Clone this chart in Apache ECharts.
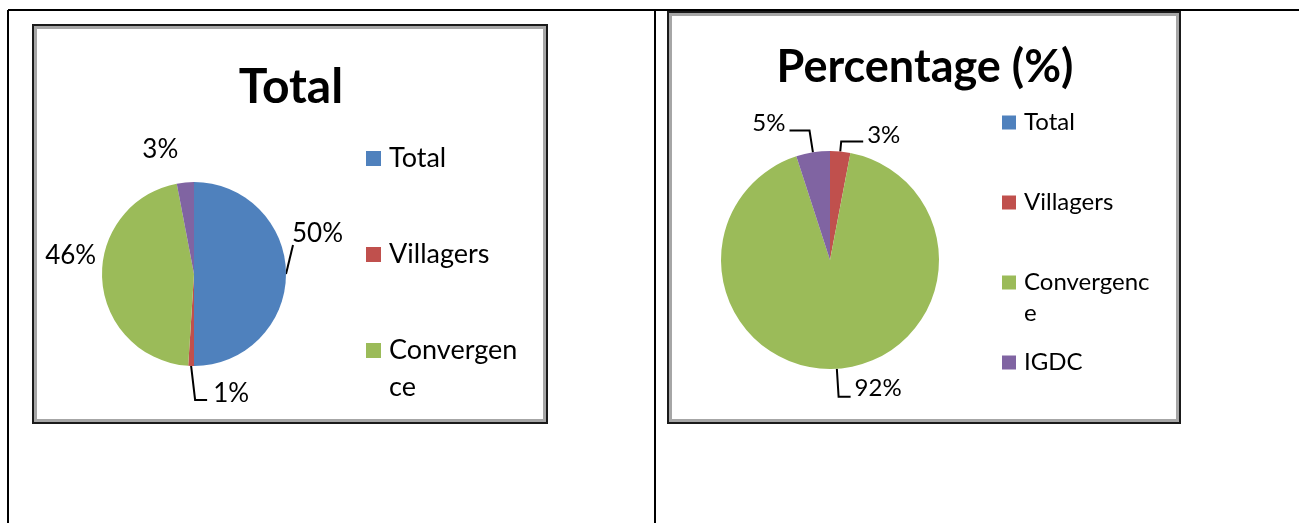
<!DOCTYPE html>
<html>
<head>
<meta charset="utf-8">
<script src="https://cdn.jsdelivr.net/npm/echarts@6/dist/echarts.min.js"></script>
<style>
  html, body { margin: 0; padding: 0; background: #fff; }
  #main { width: 1299px; height: 523px; }
</style>
</head>
<body>
<div id="main"></div>
<script>
// data
var sliceNames = ['Total', 'Villagers', 'Convergence', 'IGDC'];
var sliceColors = ['#4F81BD', '#C0504D', '#9BBB59', '#8064A2'];

var totalValues = [50, 1, 46, 3];
var totalLegend = ['Total', 'Villagers', 'Convergence'];   // IGDC is cut off in the original
var totalLegendText = ['Total', 'Villagers', 'Convergen\nce'];

var pctValues = [0, 3, 92, 5];
var pctLegend = ['Total', 'Villagers', 'Convergence'];
var pctLegendLast = ['IGDC'];
var pctLegendText = ['Total', 'Villagers', 'Convergenc\ne', 'IGDC'];

// label line tweaks (style only)
var totalLineLen = [2, 28, 2, 33];
var totalLineShow = [true, true, false, false];

var pctLineLen = [10, 10, 28, 22];
var pctLineLen2 = [10, 22, 12, 20];
var pctLabelDy = [0, -6, -8, -7];

var FONT = 'Lato, "Open Sans", sans-serif';

function buildData(values, lens, lens2, shows) {
  return values.map(function (v, i) {
    return {
      name: sliceNames[i],
      value: v,
      itemStyle: { color: sliceColors[i] },
      label: { show: v > 0 },
      labelLine: {
        show: v > 0 && (shows ? shows[i] : true),
        length: lens[i],
        length2: lens2 ? lens2[i] : 0
      }
    };
  });
}

// wrapped legend names: first line sits on the square, second line hangs below
function legendFormatter(texts) {
  return function (name) {
    var parts = texts[sliceNames.indexOf(name)].split('\n');
    if (parts.length === 1) { return '{a|' + parts[0] + '}'; }
    return '{a|' + parts[0] + '}\n{b|' + parts[1] + '}';
  };
}

function legendRich(size, lh) {
  return {
    a: { fontFamily: FONT, fontSize: size, color: '#000', lineHeight: lh },
    b: { fontFamily: FONT, fontSize: size, color: '#000', lineHeight: 0, padding: [lh, 0, 0, 0] }
  };
}

function legendBlock(names, texts, left, top, box, gap, size, lh) {
  return {
    orient: 'vertical', left: left, top: top, padding: 0,
    itemWidth: box, itemHeight: box, itemGap: gap,
    selectedMode: false, icon: 'rect',
    data: names,
    formatter: legendFormatter(texts),
    textStyle: {
      fontFamily: FONT, fontSize: size, color: '#000', lineHeight: lh,
      padding: [0, 0, 0, 3], rich: legendRich(size, lh)
    }
  };
}

var chart = echarts.init(document.getElementById('main'), null, { renderer: 'canvas' });

var option = {
  animation: false,
  backgroundColor: '#fff',
  textStyle: { fontFamily: FONT },
  title: [
    {
      text: 'Total', left: 291, top: 64, textAlign: 'center', padding: 0,
      textStyle: { fontFamily: FONT, fontSize: 48, fontWeight: 'bold', color: '#000', lineHeight: 48 }
    },
    {
      text: 'Percentage (%)', left: 925, top: 45, textAlign: 'center', padding: 0,
      textStyle: { fontFamily: FONT, fontSize: 45, fontWeight: 'bold', color: '#000', lineHeight: 45 }
    }
  ],
  legend: [
    legendBlock(totalLegend, totalLegendText, 366, 140, 15, 59, 27, 37),
    legendBlock(pctLegend, pctLegendText, 1002, 107, 14, 49, 24, 31),
    // the wrapped "Convergence" line does not push IGDC down in the original
    legendBlock(pctLegendLast, pctLegendText, 1002, 347, 14, 49, 24, 31)
  ],
  graphic: [
    // table grid
    { type: 'line', shape: { x1: 8, y1: 10, x2: 1299, y2: 10 }, style: { stroke: '#000', lineWidth: 2 } },
    { type: 'line', shape: { x1: 8, y1: 10, x2: 8, y2: 523 }, style: { stroke: '#000', lineWidth: 2 } },
    { type: 'line', shape: { x1: 655, y1: 10, x2: 655, y2: 523 }, style: { stroke: '#000', lineWidth: 2 } },
    // chart frames: dark outer edge and grey inner edge
    { type: 'rect', shape: { x: 33, y: 25, width: 514, height: 398 }, style: { fill: null, stroke: '#1a1a1a', lineWidth: 2 } },
    { type: 'rect', shape: { x: 35.5, y: 27.5, width: 509, height: 393 }, style: { fill: null, stroke: '#a6a6a6', lineWidth: 3 } },
    { type: 'rect', shape: { x: 668, y: 12, width: 512, height: 411 }, style: { fill: null, stroke: '#1a1a1a', lineWidth: 2 } },
    { type: 'rect', shape: { x: 670.5, y: 14.5, width: 507, height: 406 }, style: { fill: null, stroke: '#a6a6a6', lineWidth: 3 } }
  ],
  series: [
    {
      type: 'pie',
      center: [194, 274],
      radius: 92,
      startAngle: 90,
      clockwise: true,
      avoidLabelOverlap: false,
      percentPrecision: 0,
      emphasis: { disabled: true },
      itemStyle: { borderWidth: 0 },
      label: {
        position: 'outside', formatter: '{d}%', distanceToLabelLine: 4,
        fontFamily: FONT, fontSize: 26, color: '#000'
      },
      labelLine: { lineStyle: { color: '#000', width: 2 }, smooth: false },
      labelLayout: function (p) {
        var pts = p.labelLinePoints;
        var a = pts && pts[0];
        if (p.dataIndex === 0) {
          // Excel "best fit": label above-right, short slanted leader
          return { dy: -40, labelLinePoints: [a, [a[0] + 7, a[1] - 29]] };
        }
        if (p.dataIndex === 1) {
          return {
            dx: 27, align: 'left',
            labelLinePoints: [a, [a[0] + 4, pts[1][1] + 6], [a[0] + 16, pts[1][1] + 6]]
          };
        }
        if (p.dataIndex === 2) { return { dy: -24 }; }
        return {};
      },
      data: buildData(totalValues, totalLineLen, null, totalLineShow)
    },
    {
      type: 'pie',
      center: [830, 260],
      radius: 109,
      startAngle: 90,
      clockwise: true,
      avoidLabelOverlap: false,
      percentPrecision: 0,
      emphasis: { disabled: true },
      itemStyle: { borderWidth: 0 },
      label: {
        position: 'outside', formatter: '{d}%', distanceToLabelLine: 4,
        fontFamily: FONT, fontSize: 24, color: '#000'
      },
      labelLine: { lineStyle: { color: '#000', width: 2 }, smooth: false },
      labelLayout: function (p) {
        return { dy: pctLabelDy[p.dataIndex] };
      },
      data: buildData(pctValues, pctLineLen, pctLineLen2, null)
    }
  ]
};

chart.setOption(option);
</script>
</body>
</html>
